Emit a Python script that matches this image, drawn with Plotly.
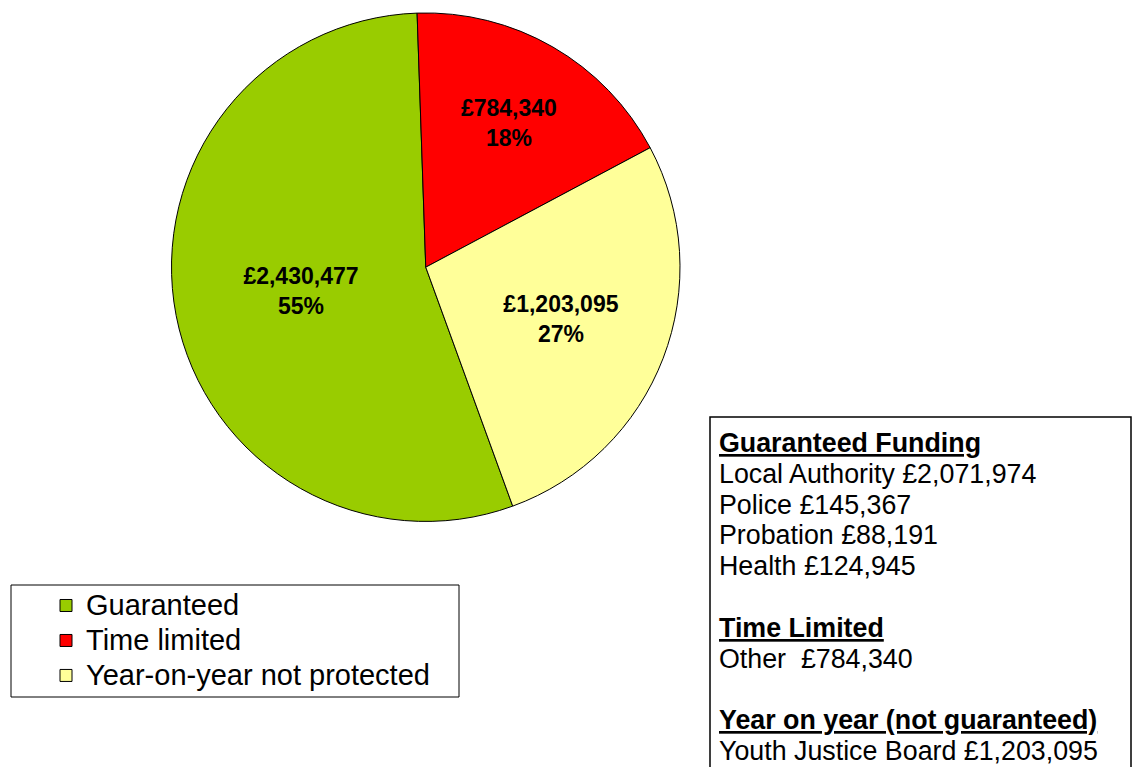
import plotly.graph_objects as go

W, H = 1136, 767

categories = ["Guaranteed", "Time limited", "Year-on-year not protected"]
values = [2430477, 784340, 1203095]
colors = ["#99CC00", "#FF0000", "#FFFF99"]

box_lines = [
    "<b><u>Guaranteed Funding</u></b>",
    "Local Authority £2,071,974",
    "Police £145,367",
    "Probation £88,191",
    "Health £124,945",
    "",
    "<b><u>Time Limited</u></b>",
    "Other  £784,340",
    "",
    "<b><u>Year on year (not guaranteed)</u></b>",
    "Youth Justice Board £1,203,095",
]

FONT = "Arial, 'Liberation Sans', sans-serif"

def px_x(x):
    return x / W

def px_y(y):
    return 1 - y / H

legend_labels = [f"<span style='font-size:29px'>{c}</span>" for c in categories]

fig = go.Figure()
fig.add_trace(go.Pie(
    labels=legend_labels,
    values=values,
    sort=False,
    direction="clockwise",
    rotation=160,
    marker=dict(colors=colors, line=dict(color="black", width=1)),
    texttemplate="£%{value:,}<br>%{percent:.0%}",
    textposition="inside",
    insidetextorientation="horizontal",
    textfont=dict(family=FONT, size=23, color="black", weight="bold"),
    domain=dict(x=[px_x(171.5), px_x(680)], y=[px_y(521.7), px_y(12.7)]),
    hoverinfo="value+percent",
))

shapes = [
    dict(type="rect", xref="paper", yref="paper",
         x0=px_x(11), x1=px_x(459), y0=px_y(697), y1=px_y(585),
         line=dict(color="black", width=1), fillcolor="rgba(0,0,0,0)"),
    dict(type="rect", xref="paper", yref="paper",
         x0=px_x(710), x1=px_x(1131), y0=px_y(790), y1=px_y(417),
         line=dict(color="black", width=1.5), fillcolor="rgba(0,0,0,0)"),
]

annotations = []
step = 30.8
for i, line in enumerate(box_lines):
    if not line:
        continue
    annotations.append(dict(
        xref="paper", yref="paper",
        x=px_x(717), y=px_y(443 + i * step),
        xanchor="left", yanchor="middle",
        text=line, showarrow=False, align="left",
        font=dict(family=FONT, size=26.8, color="black"),
    ))

fig.update_layout(
    width=W, height=H,
    margin=dict(l=0, r=0, t=0, b=0),
    paper_bgcolor="white",
    plot_bgcolor="white",
    showlegend=True,
    legend=dict(
        x=px_x(46), y=px_y(583), xanchor="left", yanchor="top",
        font=dict(family=FONT, size=24.6, color="black"),
        bgcolor="rgba(0,0,0,0)", borderwidth=0,
        tracegroupgap=0, itemclick=False,
    ),
    shapes=shapes,
    annotations=annotations,
)

fig.write_html("out.html")
